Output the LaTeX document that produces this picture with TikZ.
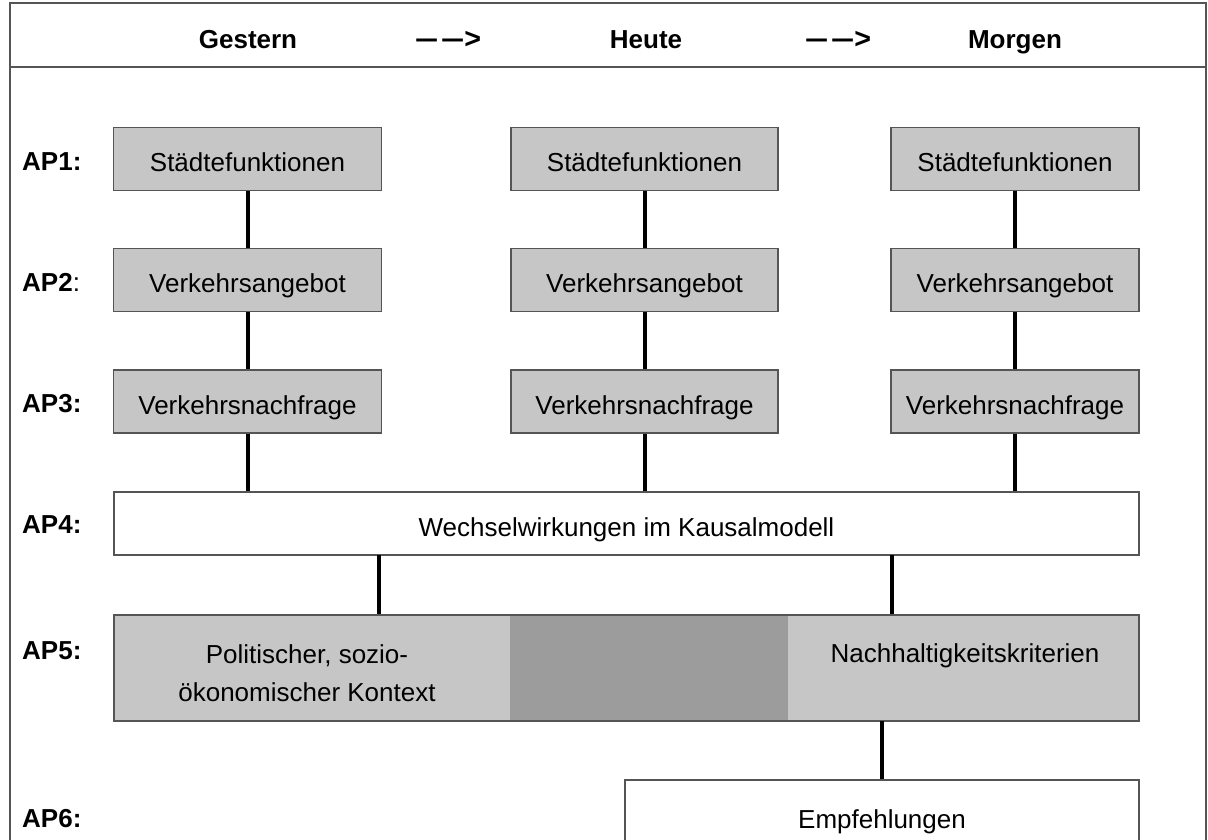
\documentclass[tikz,border=0pt]{standalone}
\usepackage{fontspec}
\setmainfont{Liberation Sans}
\definecolor{boxgray}{HTML}{C6C6C6}
\definecolor{darkband}{HTML}{9C9C9C}
\definecolor{edgegray}{HTML}{555555}
\begin{document}
\begin{tikzpicture}[x=1pt,y=-1pt,
  every node/.style={font=\fontsize{26}{38}\selectfont, inner sep=0pt},
  txt/.style={text height=19pt, text depth=5pt},
  boxtxt/.style={text height=25pt, text depth=0pt},
  graybox/.style={draw=edgegray, line width=1.2pt, fill=boxgray, minimum height=63pt, boxtxt},
  whitebox/.style={draw=edgegray, line width=1.2pt, fill=white, boxtxt},
  conn/.style={line width=4pt, black},
  aplabel/.style={anchor=west, txt, font=\fontsize{26}{30}\selectfont\bfseries},
  head/.style={txt, font=\fontsize{26}{30}\selectfont\bfseries}]
\useasboundingbox (0,0) rectangle (1208,839);
\clip (0,0) rectangle (1208,839);
% frame
\draw[edgegray, line width=1.2pt] (10,3) rectangle (1206,880);
\draw[edgegray, line width=1.2pt] (10,67) -- (1206,67);
% header
\node[head] (hg) at (248,41) {Gestern};
\node[head] (ha1) at (448,41) {\scalebox{1.6}[1.15]{–}\hspace{3pt}\scalebox{1.6}[1.15]{–}\scalebox{1.1}{>}};
\node[head] (hh) at (646,41) {Heute};
\node[head] (ha2) at (838,41) {\scalebox{1.6}[1.15]{–}\hspace{3pt}\scalebox{1.6}[1.15]{–}\scalebox{1.1}{>}};
\node[head] (hm) at (1015,41) {Morgen};
% AP labels
\node[aplabel] (l1) at (22,163) {AP1:};
\node[aplabel] (l2) at (22,284) {AP2\mdseries:};
\node[aplabel] (l3) at (22,405) {AP3:};
\node[aplabel] (l4) at (22,526) {AP4:};
\node[aplabel] (l5) at (22,652) {AP5:};
\node[aplabel] (l6) at (22,820) {AP6:};
% column boxes
\node[graybox, minimum width=268pt] (a1) at (247.5,159) {Städtefunktionen};
\node[graybox, minimum width=267pt] (b1) at (644.5,159) {Städtefunktionen};
\node[graybox, minimum width=248pt] (c1) at (1015,159) {Städtefunktionen};
\node[graybox, minimum width=268pt] (a2) at (247.5,280) {Verkehrsangebot};
\node[graybox, minimum width=267pt] (b2) at (644.5,280) {Verkehrsangebot};
\node[graybox, minimum width=248pt] (c2) at (1015,280) {Verkehrsangebot};
\node[graybox, minimum width=268pt] (a3) at (247.5,401.5) {Verkehrsnachfrage};
\node[graybox, minimum width=267pt] (b3) at (644.5,401.5) {Verkehrsnachfrage};
\node[graybox, minimum width=248pt] (c3) at (1015,401.5) {Verkehrsnachfrage};
% AP4
\node[whitebox, minimum width=1025pt, minimum height=63pt] (w4) at (626.5,523.5) {Wechselwirkungen im Kausalmodell};
% AP5
\node[graybox, minimum width=1025pt, minimum height=106pt] (p5) at (626.5,668) {};
\fill[darkband] (510,615.6) rectangle (788,720.4);
\draw[edgegray, line width=1.2pt] (p5.north west) rectangle (p5.south east);
\node[align=center] (t5a) at (307,673) {Politischer, sozio-\\ökonomischer Kontext};
\node[txt] (t5b) at (965,655) {Nachhaltigkeitskriterien};
% AP6
\node[whitebox, minimum width=514pt, minimum height=90pt] (e6) at (882,825) {};
\node[txt] (t6) at (882,821) {Empfehlungen};
% connectors
\draw[conn] (a1.south) -- (a2.north);
\draw[conn] (b1.south) -- (b2.north);
\draw[conn] (c1.south) -- (c2.north);
\draw[conn] (a2.south) -- (a3.north);
\draw[conn] (b2.south) -- (b3.north);
\draw[conn] (c2.south) -- (c3.north);
\draw[conn] (a3.south) -- (a3.south |- w4.north);
\draw[conn] (b3.south) -- (b3.south |- w4.north);
\draw[conn] (c3.south) -- (c3.south |- w4.north);
\coordinate (k1) at (379,555);
\coordinate (k2) at (892,555);
\draw[conn] (k1) -- (k1 |- p5.north);
\draw[conn] (k2) -- (k2 |- p5.north);
\coordinate (k3) at (882,721);
\draw[conn] (k3) -- (k3 |- e6.north);
\end{tikzpicture}
\end{document}
